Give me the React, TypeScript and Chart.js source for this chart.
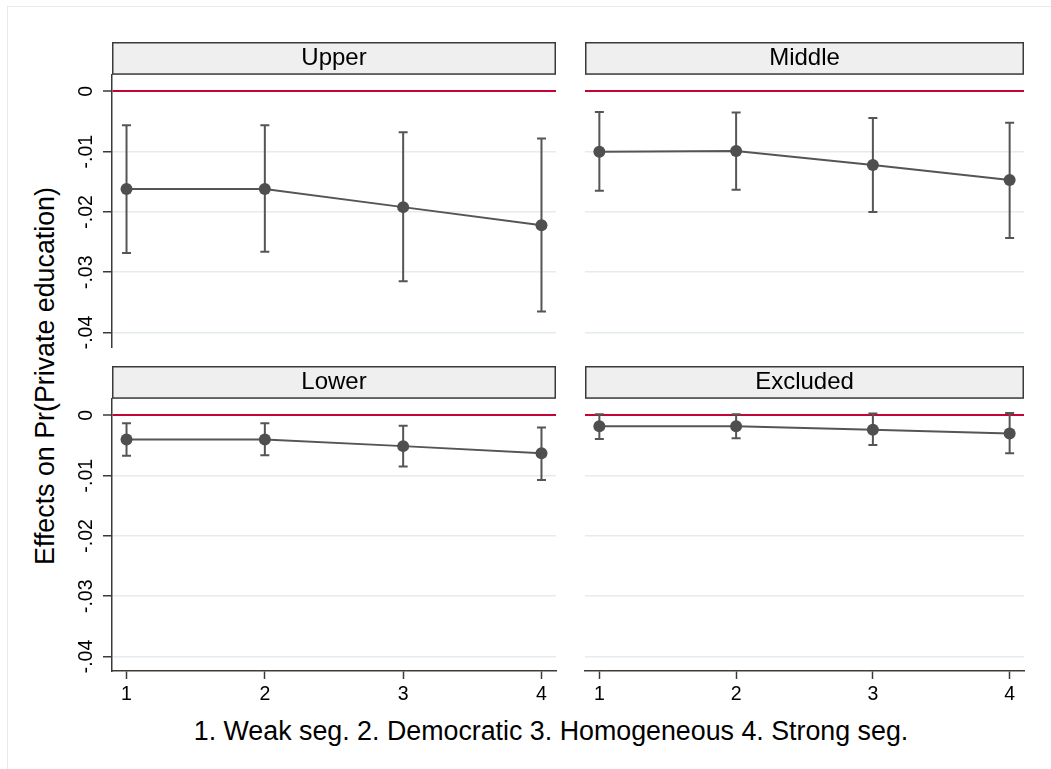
import React, { useEffect, useRef } from "react";
import { Chart, registerables } from "chart.js";

Chart.register(...registerables);

const FONT = "'Liberation Sans', Arial, Helvetica, sans-serif";
Chart.defaults.font.family = FONT;
Chart.defaults.color = "#000";

// ---- data ----
const categories = [1, 2, 3, 4];
const xTickLabels = ["1", "2", "3", "4"];
const yTicks = [0, -0.01, -0.02, -0.03, -0.04];
const yTickLabels = ["0", "-.01", "-.02", "-.03", "-.04"];

const panelTitles = ["Upper", "Middle", "Lower", "Excluded"];

const upperEst = [-0.0162, -0.0162, -0.0192, -0.0222];
const upperLo = [-0.0268, -0.0266, -0.0315, -0.0365];
const upperHi = [-0.0056, -0.0056, -0.0068, -0.0078];

const middleEst = [-0.01, -0.0099, -0.0122, -0.0147];
const middleLo = [-0.0165, -0.0163, -0.02, -0.0243];
const middleHi = [-0.0034, -0.0035, -0.0044, -0.0052];

const lowerEst = [-0.004, -0.004, -0.0051, -0.0063];
const lowerLo = [-0.0067, -0.0066, -0.0085, -0.0107];
const lowerHi = [-0.0013, -0.0013, -0.0017, -0.002];

const excludedEst = [-0.0018, -0.0018, -0.0024, -0.003];
const excludedLo = [-0.0039, -0.0038, -0.0049, -0.0063];
const excludedHi = [0.0002, 0.0002, 0.0003, 0.0004];

const xTitle = "1. Weak seg. 2. Democratic 3. Homogeneous 4. Strong seg.";
const yTitle = "Effects on Pr(Private education)";

// ---- style ----
const RED = "#c10534";
const GRID = "#e4ecef";
const AXIS = "#3a3a3a";
const SERIES = "#555555";
const MARKER = "#4f4f4f";
const Y_MIN = -0.0424;
const Y_MAX = 0.00275;
const X_MIN = 0.895;
const X_MAX = 4.105;
const TICK_FONT = 19.5;

const errorBarPlugin = {
  id: "errorBars",
  beforeDatasetsDraw(chart: any, _args: any, opts: any) {
    const { ctx } = chart;
    const x = chart.scales.x;
    const y = chart.scales.y;
    ctx.save();
    ctx.strokeStyle = SERIES;
    ctx.lineWidth = 2;
    categories.forEach((c, i) => {
      const px = x.getPixelForValue(c);
      const top = y.getPixelForValue(opts.hi[i]);
      const bot = y.getPixelForValue(opts.lo[i]);
      ctx.beginPath();
      ctx.moveTo(px, top);
      ctx.lineTo(px, bot);
      ctx.moveTo(px - 4.5, top);
      ctx.lineTo(px + 4.5, top);
      ctx.moveTo(px - 4.5, bot);
      ctx.lineTo(px + 4.5, bot);
      ctx.stroke();
    });
    ctx.restore();
  },
};

const headerBoxPlugin = {
  id: "headerBox",
  beforeDraw(chart: any) {
    const tb = chart.titleBlock;
    if (!tb) return;
    const { ctx } = chart;
    ctx.save();
    ctx.fillStyle = "#efefef";
    ctx.fillRect(tb.left, tb.top, tb.width, tb.height);
    ctx.strokeStyle = AXIS;
    ctx.lineWidth = 1.5;
    ctx.strokeRect(tb.left + 0.75, tb.top + 0.75, tb.width - 1.5, tb.height - 1.5);
    ctx.restore();
  },
};

type PanelProps = {
  left: number;
  top: number;
  width: number;
  height: number;
  padBottom: number;
  title: string;
  est: number[];
  lo: number[];
  hi: number[];
  showY: boolean;
  showX: boolean;
};

function Panel({ left, top, width, height, padBottom, title, est, lo, hi, showY, showX }: PanelProps) {
  const ref = useRef<HTMLCanvasElement>(null);
  useEffect(() => {
    const chart = new Chart(ref.current as HTMLCanvasElement, {
      type: "line",
      data: {
        datasets: [
          {
            data: categories.map((c, i) => ({ x: c, y: est[i] })),
            borderColor: SERIES,
            borderWidth: 2,
            pointRadius: 6,
            pointBackgroundColor: MARKER,
            pointBorderColor: MARKER,
            pointBorderWidth: 0,
            tension: 0,
          },
        ],
      },
      options: {
        responsive: false,
        animation: false,
        devicePixelRatio: 1,
        layout: { padding: { left: 0, right: 0, top: 0, bottom: padBottom } },
        plugins: {
          legend: { display: false },
          tooltip: { enabled: false },
          title: {
            display: true,
            text: title,
            fullSize: false,
            font: { size: 24, family: FONT, weight: "normal", lineHeight: 1.2 },
            color: "#000",
            padding: { top: 2, bottom: 2 },
          },
          errorBars: { lo, hi },
        } as any,
        scales: {
          x: {
            type: "linear",
            min: X_MIN,
            max: X_MAX,
            display: showX,
            afterBuildTicks: (s: any) => {
              s.ticks = categories.map((v) => ({ value: v }));
            },
            afterFit: (s: any) => {
              s.height = showX ? 40 : 0;
            },
            ticks: {
              autoSkip: false,
              maxRotation: 0,
              minRotation: 0,
              padding: 4,
              font: { size: TICK_FONT },
              color: "#000",
              callback: (_v: any, i: number) => xTickLabels[i],
            },
            grid: {
              drawOnChartArea: false,
              tickLength: 8,
              tickColor: AXIS,
              tickWidth: 1.5,
            },
            border: { display: true, color: AXIS, width: 1.5 },
          },
          y: {
            type: "linear",
            min: Y_MIN,
            max: Y_MAX,
            afterBuildTicks: (s: any) => {
              s.ticks = yTicks.map((v) => ({ value: v }));
            },
            afterFit: (s: any) => {
              s.width = showY ? 52 : 0;
            },
            ticks: {
              display: showY,
              autoSkip: false,
              minRotation: 90,
              maxRotation: 90,
              crossAlign: "center",
              padding: 0,
              font: { size: TICK_FONT },
              color: "#000",
              callback: (_v: any, i: number) => yTickLabels[i],
            },
            grid: {
              drawTicks: showY,
              tickLength: 9,
              tickColor: AXIS,
              tickWidth: 1.5,
              color: (c: any) => (c.tick && c.tick.value === 0 ? RED : GRID),
              lineWidth: (c: any) => (c.tick && c.tick.value === 0 ? 2 : 1.5),
            },
            border: { display: showY, color: AXIS, width: 1.5 },
          },
        } as any,
      },
      plugins: [headerBoxPlugin, errorBarPlugin],
    } as any);
    return () => chart.destroy();
  }, []);
  return (
    <canvas
      ref={ref}
      width={width}
      height={height}
      style={{ position: "absolute", left, top, width, height, display: "block" }}
    />
  );
}

export default function App() {
  return (
    <div
      style={{
        position: "absolute",
        left: 0,
        top: 0,
        width: 1051,
        height: 769,
        background: "#fff",
        overflow: "hidden",
        fontFamily: FONT,
      }}
    >
      <div
        style={{
          position: "absolute",
          left: 7,
          top: 6,
          width: 1100,
          height: 800,
          border: "1.5px solid #e3ebee",
        }}
      />
      <Panel left={60} top={42} width={502} height={320} padBottom={15} title={panelTitles[0]} est={upperEst} lo={upperLo} hi={upperHi} showY={true} showX={false} />
      <Panel left={579} top={42} width={451} height={320} padBottom={15} title={panelTitles[1]} est={middleEst} lo={middleLo} hi={middleHi} showY={false} showX={false} />
      <Panel left={60} top={366} width={502} height={345} padBottom={0} title={panelTitles[2]} est={lowerEst} lo={lowerLo} hi={lowerHi} showY={true} showX={true} />
      <Panel left={579} top={366} width={451} height={345} padBottom={0} title={panelTitles[3]} est={excludedEst} lo={excludedLo} hi={excludedHi} showY={false} showX={true} />
      <div
        style={{
          position: "absolute",
          left: 45,
          top: 376,
          transform: "translate(-50%, -50%) rotate(-90deg)",
          whiteSpace: "nowrap",
          fontSize: 26.8,
          lineHeight: 1,
          color: "#000",
        }}
      >
        {yTitle}
      </div>
      <div
        style={{
          position: "absolute",
          left: 551,
          top: 731,
          transform: "translate(-50%, -50%)",
          whiteSpace: "nowrap",
          fontSize: 26.8,
          lineHeight: 1,
          color: "#000",
        }}
      >
        {xTitle}
      </div>
    </div>
  );
}
